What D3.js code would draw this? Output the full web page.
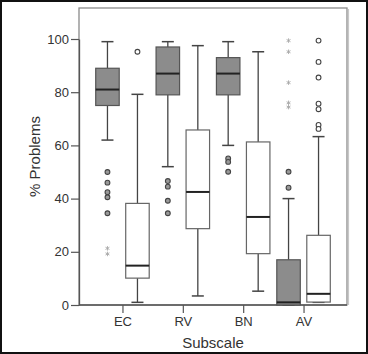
<!DOCTYPE html>
<html><head><meta charset="utf-8">
<script src="https://cdn.jsdelivr.net/npm/d3@7"></script>
<style>
html,body{margin:0;padding:0;background:#fff;}
svg{display:block;font-family:"Liberation Sans",Arial,sans-serif;}
</style></head>
<body>
<svg id="c" width="368" height="354"></svg>
<script>
const categories = ["EC","RV","BN","AV"];
const yTicks = [0,20,40,60,80,100];

// shaded (grey) boxes
const greyLow    = [62, 52, 60, 0];
const greyQ1     = [75, 79, 79, 0];
const greyMedian = [81, 87, 87, 1];
const greyQ3     = [89, 97, 93, 17];
const greyHigh   = [99, 99, 99, 40];
const greyOutliers = [[50,46,42.4,40.5,34.5],[46.6,44.5,39.2,34.5],[55.1,53.8,50.1],[50.1,44.1]];
const greyExtremes = [[21.3,19.2],[],[],[99.4,95.2,83.6,76,74.4]];

// white boxes
const whiteLow    = [1, 3.4, 5.2, 1];
const whiteQ1     = [10.1, 28.7, 19.3, 1.1];
const whiteMedian = [14.8, 42.5, 33.1, 4.2];
const whiteQ3     = [38.2, 65.8, 61.3, 26.2];
const whiteHigh   = [79.2, 97.5, 95.2, 63.3];
const whiteOutliers = [[95.2],[],[],[99.4,91.4,85.5,75.7,73.6,67.7,66.2]];
const whiteExtremes = [[],[],[],[]];

const svg = d3.select("#c");
const W = 368, H = 354;
const L = 79, R = 347, T = 8, B = 305;

// outer frame
svg.append("rect").attr("x",1).attr("y",1).attr("width",W-2).attr("height",H-2)
  .attr("fill","none").attr("stroke","#111").attr("stroke-width",2);

const x = d3.scalePoint().domain(categories).range([L,R]).padding(0.72);
const y = d3.scaleLinear().domain([0,100]).range([B,39]);

// plot frame
svg.append("rect").attr("x",L).attr("y",T).attr("width",R-L).attr("height",B-T)
  .attr("fill","none").attr("stroke","#8a8a8a").attr("stroke-width",1.3);
svg.append("line").attr("x1",R+1.5).attr("x2",R+1.5).attr("y1",T+1).attr("y2",B)
  .attr("stroke","#c8c8c8").attr("stroke-width",1.2);

// axes
const yAxis = d3.axisLeft(y).tickValues(yTicks).tickSize(8).tickPadding(2).tickSizeOuter(0);
const gy = svg.append("g").attr("transform",`translate(${L},0)`).call(yAxis);
gy.select(".domain").attr("stroke","#555").attr("stroke-width",1.3);
gy.selectAll(".tick line").attr("stroke","#555").attr("stroke-width",1.2);
gy.selectAll(".tick text").attr("fill","#333").style("font-size","13px");

const xAxis = d3.axisBottom(x).tickSize(8).tickPadding(4).tickSizeOuter(0);
const gx = svg.append("g").attr("transform",`translate(0,${B})`).call(xAxis);
gx.select(".domain").attr("d",`M${L},0H${R}`).attr("stroke","#555").attr("stroke-width",1.3);
gx.selectAll(".tick line").attr("stroke","#555").attr("stroke-width",1.2);
gx.selectAll(".tick text").attr("fill","#333").style("font-size","13px");

svg.append("text").attr("x",(L+R)/2).attr("y",348).attr("text-anchor","middle")
  .attr("fill","#333").style("font-size","15px").text("Subscale");
svg.append("text").attr("transform",`translate(40,${(T+B)/2}) rotate(-90)`)
  .attr("text-anchor","middle").attr("fill","#333").style("font-size","15px").text("% Problems");

const boxW = 23.5, capW = 12, off = 15;
function drawSeries(dx, low, q1, med, q3, high, outs, exts, fill, stroke, medStroke, outFill) {
  categories.forEach((c,i) => {
    const cx = x(c) + dx;
    const g = svg.append("g");
    g.append("line").attr("x1",cx).attr("x2",cx).attr("y1",y(high[i])).attr("y2",y(q3[i]))
      .attr("stroke","#444").attr("stroke-width",1.3);
    g.append("line").attr("x1",cx).attr("x2",cx).attr("y1",y(low[i])).attr("y2",y(q1[i]))
      .attr("stroke","#444").attr("stroke-width",1.3);
    g.append("line").attr("x1",cx-capW/2).attr("x2",cx+capW/2).attr("y1",y(high[i])).attr("y2",y(high[i]))
      .attr("stroke","#444").attr("stroke-width",1.5);
    g.append("line").attr("x1",cx-capW/2).attr("x2",cx+capW/2).attr("y1",y(low[i])).attr("y2",y(low[i]))
      .attr("stroke","#444").attr("stroke-width",1.5);
    g.append("rect").attr("x",cx-boxW/2).attr("y",y(q3[i])).attr("width",boxW)
      .attr("height",Math.max(1,y(q1[i])-y(q3[i])))
      .attr("fill",fill).attr("stroke",stroke).attr("stroke-width",1.2);
    g.append("line").attr("x1",cx-boxW/2).attr("x2",cx+boxW/2).attr("y1",y(med[i])).attr("y2",y(med[i]))
      .attr("stroke",medStroke).attr("stroke-width",2);
    outs[i].forEach(v => {
      g.append("circle").attr("cx",cx).attr("cy",y(v)).attr("r",2.4)
        .attr("fill",outFill).attr("stroke","#444").attr("stroke-width",1.1);
    });
    exts[i].forEach(v => {
      g.append("path").attr("transform",`translate(${cx},${y(v)})`)
        .attr("d",d3.symbol(d3.symbolAsterisk,14)())
        .attr("fill","none").attr("stroke","#a8a8a8").attr("stroke-width",0.9);
    });
  });
}
drawSeries(-off, greyLow, greyQ1, greyMedian, greyQ3, greyHigh, greyOutliers, greyExtremes,
  "#8c8c8c", "#555", "#222", "#999");
drawSeries(off, whiteLow, whiteQ1, whiteMedian, whiteQ3, whiteHigh, whiteOutliers, whiteExtremes,
  "#fff", "#666", "#222", "#fff");
</script>
</body></html>
